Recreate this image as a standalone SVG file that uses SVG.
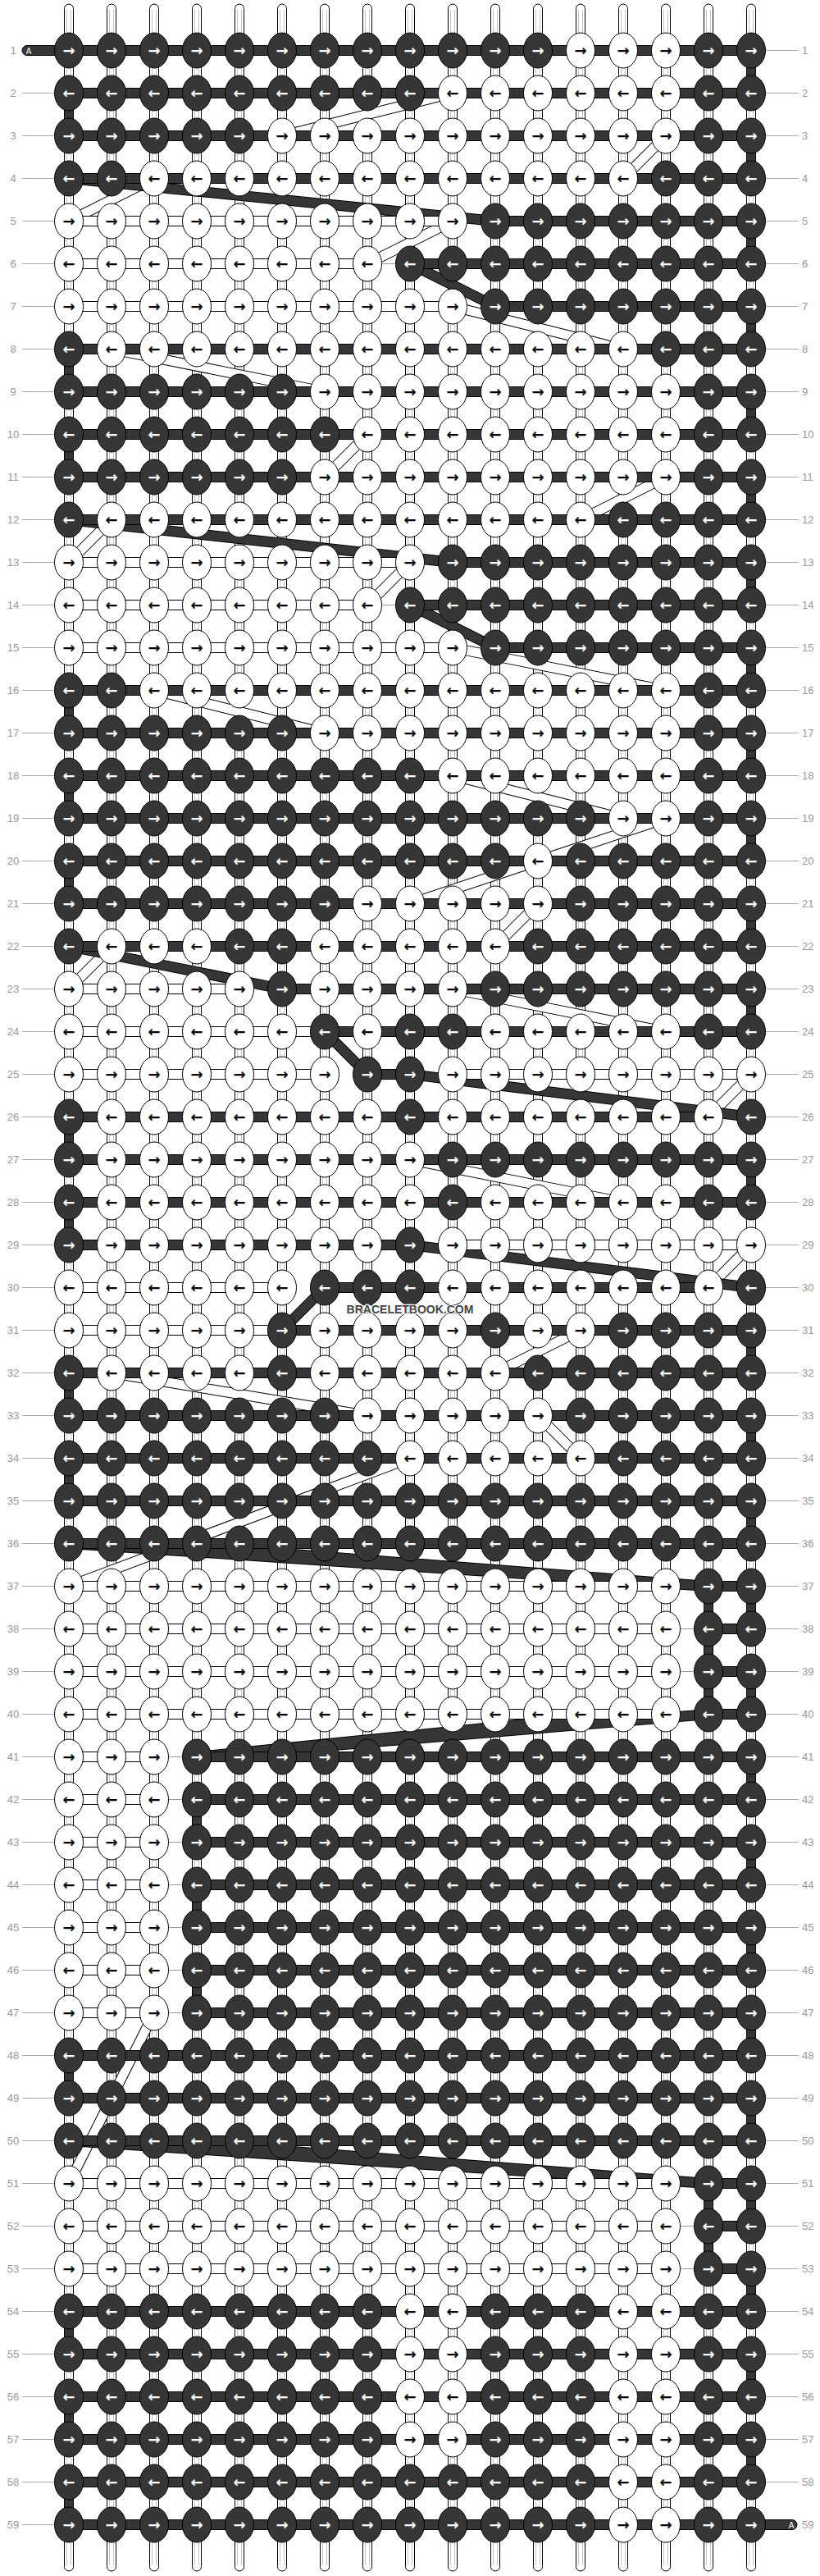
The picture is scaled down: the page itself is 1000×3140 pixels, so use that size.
<svg xmlns="http://www.w3.org/2000/svg" width="1000" height="3140" viewBox="0 0 1000 3140">
<style>
.bg{fill:#fff}
.vs{fill:#fff;stroke:#000;stroke-width:1}
.vi{stroke:#c4c4c4;stroke-width:1;fill:none}
.vd{fill:#363636;stroke:#000;stroke-width:1}
.bd{fill:#363636;stroke:#000;stroke-width:1}
.bw{fill:#fff;stroke:#000;stroke-width:1}
.nl{stroke:#999;stroke-width:1;fill:none}
.bo{stroke:#000;stroke-width:13;fill:none}
.bk{stroke:#363636;stroke-width:11;fill:none}
.bh{stroke:#fff;stroke-width:11;fill:none}
.kd{fill:#363636;stroke:#000;stroke-width:1}
.kw{fill:#fff;stroke:#000;stroke-width:1}
.tw{fill:#fff;font-family:'DejaVu Sans',sans-serif;font-weight:bold;font-size:18px;text-anchor:middle}
.tb{fill:#000;font-family:'DejaVu Sans',sans-serif;font-weight:bold;font-size:18px;text-anchor:middle}
.ll{stroke:#aaa;stroke-width:1;fill:none}
.ln{fill:#999;font-family:'Liberation Sans',Arial,sans-serif;font-size:13px;text-anchor:middle}
.rn{fill:#999;font-family:'Liberation Sans',Arial,sans-serif;font-size:13px;text-anchor:start}
.cap{fill:#363636;stroke:#000;stroke-width:1}
.capt{fill:#fff;font-family:'Liberation Sans',Arial,sans-serif;font-size:10px;text-anchor:middle}
.wm{fill:#444;stroke:#fff;stroke-width:2.5;paint-order:stroke;font-family:'Liberation Sans',Arial,sans-serif;font-weight:bold;font-size:14px;text-anchor:middle}
</style>
<defs>
<g id="a"><ellipse class="kd" rx="17.5" ry="21.5"/><text class="tw" y="6">→</text></g>
<g id="b"><ellipse class="kd" rx="17.5" ry="21.5"/><text class="tw" y="6">←</text></g>
<g id="c"><ellipse class="kw" rx="17.5" ry="21.5"/><text class="tb" y="6">→</text></g>
<g id="e"><ellipse class="kw" rx="17.5" ry="21.5"/><text class="tb" y="6">←</text></g>
<rect id="vd" class="vd" x="-5.5" y="0" width="11" height="24"/>
</defs>
<rect class="bg" x="0" y="0" width="1000" height="3140"/>
<g id="labels">
<path class="ll" d="M27 113.5H66M27 165.5H66M27 217.5H66M27 269.5H66M27 321.5H66M27 373.5H66M27 425.5H66M27 477.5H66M27 529.5H66M27 581.5H66M27 633.5H66M27 685.5H66M27 737.5H66M27 789.5H66M27 841.5H66M27 893.5H66M27 945.5H66M27 997.5H66M27 1049.5H66M27 1101.5H66M27 1153.5H66M27 1205.5H66M27 1257.5H66M27 1309.5H66M27 1361.5H66M27 1413.5H66M27 1465.5H66M27 1517.5H66M27 1569.5H66M27 1621.5H66M27 1673.5H66M27 1725.5H66M27 1777.5H66M27 1829.5H66M27 1881.5H66M27 1933.5H66M27 1985.5H66M27 2037.5H66M27 2089.5H66M27 2141.5H66M27 2193.5H66M27 2245.5H66M27 2297.5H66M27 2349.5H66M27 2401.5H66M27 2453.5H66M27 2505.5H66M27 2557.5H66M27 2609.5H66M27 2661.5H66M27 2713.5H66M27 2765.5H66M27 2817.5H66M27 2869.5H66M27 2921.5H66M27 2973.5H66M27 3025.5H66M27 3077.5H66"/>
<path class="ll" d="M934 61.5H974M934 113.5H974M934 165.5H974M934 217.5H974M934 269.5H974M934 321.5H974M934 373.5H974M934 425.5H974M934 477.5H974M934 529.5H974M934 581.5H974M934 633.5H974M934 685.5H974M934 737.5H974M934 789.5H974M934 841.5H974M934 893.5H974M934 945.5H974M934 997.5H974M934 1049.5H974M934 1101.5H974M934 1153.5H974M934 1205.5H974M934 1257.5H974M934 1309.5H974M934 1361.5H974M934 1413.5H974M934 1465.5H974M934 1517.5H974M934 1569.5H974M934 1621.5H974M934 1673.5H974M934 1725.5H974M934 1777.5H974M934 1829.5H974M934 1881.5H974M934 1933.5H974M934 1985.5H974M934 2037.5H974M934 2089.5H974M934 2141.5H974M934 2193.5H974M934 2245.5H974M934 2297.5H974M934 2349.5H974M934 2401.5H974M934 2453.5H974M934 2505.5H974M934 2557.5H974M934 2609.5H974M934 2661.5H974M934 2713.5H974M934 2765.5H974M934 2817.5H974M934 2869.5H974M934 2921.5H974M934 2973.5H974M934 3025.5H974"/>
<g class="ln">
<text x="16" y="66">1</text><text x="16" y="118">2</text><text x="16" y="170">3</text><text x="16" y="222">4</text><text x="16" y="274">5</text><text x="16" y="326">6</text><text x="16" y="378">7</text><text x="16" y="430">8</text><text x="16" y="482">9</text><text x="16" y="534">10</text>
<text x="16" y="586">11</text><text x="16" y="638">12</text><text x="16" y="690">13</text><text x="16" y="742">14</text><text x="16" y="794">15</text><text x="16" y="846">16</text><text x="16" y="898">17</text><text x="16" y="950">18</text><text x="16" y="1002">19</text><text x="16" y="1054">20</text>
<text x="16" y="1106">21</text><text x="16" y="1158">22</text><text x="16" y="1210">23</text><text x="16" y="1262">24</text><text x="16" y="1314">25</text><text x="16" y="1366">26</text><text x="16" y="1418">27</text><text x="16" y="1470">28</text><text x="16" y="1522">29</text><text x="16" y="1574">30</text>
<text x="16" y="1626">31</text><text x="16" y="1678">32</text><text x="16" y="1730">33</text><text x="16" y="1782">34</text><text x="16" y="1834">35</text><text x="16" y="1886">36</text><text x="16" y="1938">37</text><text x="16" y="1990">38</text><text x="16" y="2042">39</text><text x="16" y="2094">40</text>
<text x="16" y="2146">41</text><text x="16" y="2198">42</text><text x="16" y="2250">43</text><text x="16" y="2302">44</text><text x="16" y="2354">45</text><text x="16" y="2406">46</text><text x="16" y="2458">47</text><text x="16" y="2510">48</text><text x="16" y="2562">49</text><text x="16" y="2614">50</text>
<text x="16" y="2666">51</text><text x="16" y="2718">52</text><text x="16" y="2770">53</text><text x="16" y="2822">54</text><text x="16" y="2874">55</text><text x="16" y="2926">56</text><text x="16" y="2978">57</text><text x="16" y="3030">58</text><text x="16" y="3082">59</text>
</g>
<g class="rn">
<text x="978" y="66">1</text><text x="978" y="118">2</text><text x="978" y="170">3</text><text x="978" y="222">4</text><text x="978" y="274">5</text><text x="978" y="326">6</text><text x="978" y="378">7</text><text x="978" y="430">8</text><text x="978" y="482">9</text><text x="978" y="534">10</text>
<text x="978" y="586">11</text><text x="978" y="638">12</text><text x="978" y="690">13</text><text x="978" y="742">14</text><text x="978" y="794">15</text><text x="978" y="846">16</text><text x="978" y="898">17</text><text x="978" y="950">18</text><text x="978" y="1002">19</text><text x="978" y="1054">20</text>
<text x="978" y="1106">21</text><text x="978" y="1158">22</text><text x="978" y="1210">23</text><text x="978" y="1262">24</text><text x="978" y="1314">25</text><text x="978" y="1366">26</text><text x="978" y="1418">27</text><text x="978" y="1470">28</text><text x="978" y="1522">29</text><text x="978" y="1574">30</text>
<text x="978" y="1626">31</text><text x="978" y="1678">32</text><text x="978" y="1730">33</text><text x="978" y="1782">34</text><text x="978" y="1834">35</text><text x="978" y="1886">36</text><text x="978" y="1938">37</text><text x="978" y="1990">38</text><text x="978" y="2042">39</text><text x="978" y="2094">40</text>
<text x="978" y="2146">41</text><text x="978" y="2198">42</text><text x="978" y="2250">43</text><text x="978" y="2302">44</text><text x="978" y="2354">45</text><text x="978" y="2406">46</text><text x="978" y="2458">47</text><text x="978" y="2510">48</text><text x="978" y="2562">49</text><text x="978" y="2614">50</text>
<text x="978" y="2666">51</text><text x="978" y="2718">52</text><text x="978" y="2770">53</text><text x="978" y="2822">54</text><text x="978" y="2874">55</text><text x="978" y="2926">56</text><text x="978" y="2978">57</text><text x="978" y="3030">58</text><text x="978" y="3082">59</text>
</g>
</g>
<g id="connectors">
<g id="strings">
<rect class="vs" x="78.5" y="5" width="11" height="3129" rx="5.5"/><rect class="vs" x="130.5" y="5" width="11" height="3129" rx="5.5"/><rect class="vs" x="182.5" y="5" width="11" height="3129" rx="5.5"/><rect class="vs" x="234.5" y="5" width="11" height="3129" rx="5.5"/><rect class="vs" x="286.5" y="5" width="11" height="3129" rx="5.5"/><rect class="vs" x="338.5" y="5" width="11" height="3129" rx="5.5"/><rect class="vs" x="390.5" y="5" width="11" height="3129" rx="5.5"/><rect class="vs" x="442.5" y="5" width="11" height="3129" rx="5.5"/><rect class="vs" x="494.5" y="5" width="11" height="3129" rx="5.5"/><rect class="vs" x="546.5" y="5" width="11" height="3129" rx="5.5"/><rect class="vs" x="598.5" y="5" width="11" height="3129" rx="5.5"/><rect class="vs" x="650.5" y="5" width="11" height="3129" rx="5.5"/><rect class="vs" x="702.5" y="5" width="11" height="3129" rx="5.5"/><rect class="vs" x="754.5" y="5" width="11" height="3129" rx="5.5"/><rect class="vs" x="806.5" y="5" width="11" height="3129" rx="5.5"/><rect class="vs" x="858.5" y="5" width="11" height="3129" rx="5.5"/><rect class="vs" x="910.5" y="5" width="11" height="3129" rx="5.5"/>
<path class="vi" d="M81.5 12V3127M86.5 12V3127M133.5 12V3127M138.5 12V3127M185.5 12V3127M190.5 12V3127M237.5 12V3127M242.5 12V3127M289.5 12V3127M294.5 12V3127M341.5 12V3127M346.5 12V3127M393.5 12V3127M398.5 12V3127M445.5 12V3127M450.5 12V3127M497.5 12V3127M502.5 12V3127M549.5 12V3127M554.5 12V3127M601.5 12V3127M606.5 12V3127M653.5 12V3127M658.5 12V3127M705.5 12V3127M710.5 12V3127M757.5 12V3127M762.5 12V3127M809.5 12V3127M814.5 12V3127M861.5 12V3127M866.5 12V3127M913.5 12V3127M918.5 12V3127"/>
</g>
<g id="turns">
<use href="#vd" x="84" y="127.5"/><use href="#vd" x="84" y="439.5"/><use href="#vd" x="84" y="543.5"/><use href="#vd" x="84" y="855.5"/><use href="#vd" x="84" y="959.5"/><use href="#vd" x="84" y="1063.5"/><use href="#vd" x="84" y="1375.5"/><use href="#vd" x="84" y="1479.5"/><use href="#vd" x="84" y="1687.5"/><use href="#vd" x="84" y="1791.5"/><use href="#vd" x="84" y="2519.5"/><use href="#vd" x="84" y="2831.5"/><use href="#vd" x="84" y="2935.5"/><use href="#vd" x="84" y="3039.5"/>
<use href="#vd" x="916" y="75.5"/><use href="#vd" x="916" y="179.5"/><use href="#vd" x="916" y="283.5"/><use href="#vd" x="916" y="387.5"/><use href="#vd" x="916" y="491.5"/><use href="#vd" x="916" y="595.5"/><use href="#vd" x="916" y="699.5"/><use href="#vd" x="916" y="803.5"/><use href="#vd" x="916" y="907.5"/><use href="#vd" x="916" y="1011.5"/><use href="#vd" x="916" y="1115.5"/><use href="#vd" x="916" y="1219.5"/><use href="#vd" x="916" y="1427.5"/><use href="#vd" x="916" y="1635.5"/><use href="#vd" x="916" y="1739.5"/><use href="#vd" x="916" y="1843.5"/><use href="#vd" x="916" y="1947.5"/><use href="#vd" x="916" y="2051.5"/><use href="#vd" x="916" y="2155.5"/><use href="#vd" x="916" y="2259.5"/><use href="#vd" x="916" y="2363.5"/><use href="#vd" x="916" y="2467.5"/><use href="#vd" x="916" y="2571.5"/><use href="#vd" x="916" y="2675.5"/><use href="#vd" x="916" y="2779.5"/><use href="#vd" x="916" y="2883.5"/><use href="#vd" x="916" y="2987.5"/>
<use href="#vd" x="864" y="1947.5"/><use href="#vd" x="864" y="1999.5"/><use href="#vd" x="864" y="2051.5"/><use href="#vd" x="864" y="2675.5"/><use href="#vd" x="864" y="2727.5"/>
<use href="#vd" x="240" y="2207.5"/><use href="#vd" x="240" y="2311.5"/><use href="#vd" x="240" y="2415.5"/>
</g>
<g id="bands">
<path class="bo" d="M552 113.5L344 165.5M812 165.5L760 217.5M188 217.5L84 269.5M552 269.5L448 321.5M552 373.5L760 425.5M136 425.5L396 477.5M448 529.5L396 581.5M812 581.5L708 633.5M136 633.5L84 685.5M500 685.5L448 737.5M552 789.5L812 841.5M188 841.5L396 893.5M552 945.5L760 997.5M812 997.5L656 1049.5M656 1049.5L500 1101.5M656 1101.5L604 1153.5M136 1153.5L84 1205.5M552 1205.5L812 1257.5M916 1309.5L864 1361.5M500 1413.5L760 1465.5M916 1517.5L864 1569.5M708 1621.5L604 1673.5M136 1673.5L448 1725.5M656 1725.5L708 1777.5M500 1777.5L84 1933.5M188 2453.5L84 2661.5"/>
<path class="bh" d="M552 113.5L344 165.5M812 165.5L760 217.5M188 217.5L84 269.5M552 269.5L448 321.5M552 373.5L760 425.5M136 425.5L396 477.5M448 529.5L396 581.5M812 581.5L708 633.5M136 633.5L84 685.5M500 685.5L448 737.5M552 789.5L812 841.5M188 841.5L396 893.5M552 945.5L760 997.5M812 997.5L656 1049.5M656 1049.5L500 1101.5M656 1101.5L604 1153.5M136 1153.5L84 1205.5M552 1205.5L812 1257.5M916 1309.5L864 1361.5M500 1413.5L760 1465.5M916 1517.5L864 1569.5M708 1621.5L604 1673.5M136 1673.5L448 1725.5M656 1725.5L708 1777.5M500 1777.5L84 1933.5M188 2453.5L84 2661.5"/>
<path class="bo" d="M84 217.5L604 269.5M500 321.5L604 373.5M84 633.5L552 685.5M500 737.5L604 789.5M84 1153.5L344 1205.5M396 1257.5L448 1309.5M500 1309.5L916 1361.5M500 1517.5L916 1569.5M396 1569.5L344 1621.5M84 1881.5L864 1933.5M188 1881.5L864 1933.5M864 2089.5L240 2141.5M760 2089.5L240 2141.5M84 2609.5L864 2661.5M188 2609.5L864 2661.5"/>
<path class="bk" d="M84 217.5L604 269.5M500 321.5L604 373.5M84 633.5L552 685.5M500 737.5L604 789.5M84 1153.5L344 1205.5M396 1257.5L448 1309.5M500 1309.5L916 1361.5M500 1517.5L916 1569.5M396 1569.5L344 1621.5M84 1881.5L864 1933.5M188 1881.5L864 1933.5M864 2089.5L240 2141.5M760 2089.5L240 2141.5M84 2609.5L864 2661.5M188 2609.5L864 2661.5"/>
</g>
<g id="bars">
<path class="cap" d="M84 55.5H33A6 6 0 0 0 33 67.5H84Z"/>
<path class="cap" d="M916 3071.5H966A6 6 0 0 1 966 3083.5H916Z"/>
<rect class="bd" x="84" y="55.5" width="832" height="12"/>
<rect class="bd" x="84" y="107.5" width="832" height="12"/>
<rect class="bd" x="84" y="159.5" width="832" height="12"/>
<rect class="bd" x="84" y="211.5" width="832" height="12"/>
<rect class="bw" x="84" y="263.5" width="468" height="12"/><rect class="bd" x="604" y="263.5" width="312" height="12"/>
<rect class="bw" x="84" y="315.5" width="364" height="12"/><rect class="bd" x="500" y="315.5" width="416" height="12"/>
<rect class="bw" x="84" y="367.5" width="468" height="12"/><rect class="bd" x="604" y="367.5" width="312" height="12"/>
<rect class="bd" x="84" y="419.5" width="832" height="12"/>
<rect class="bd" x="84" y="471.5" width="832" height="12"/>
<rect class="bd" x="84" y="523.5" width="832" height="12"/>
<rect class="bd" x="84" y="575.5" width="832" height="12"/>
<rect class="bd" x="84" y="627.5" width="832" height="12"/>
<rect class="bw" x="84" y="679.5" width="416" height="12"/><rect class="bd" x="552" y="679.5" width="364" height="12"/>
<rect class="bw" x="84" y="731.5" width="364" height="12"/><rect class="bd" x="500" y="731.5" width="416" height="12"/>
<rect class="bw" x="84" y="783.5" width="468" height="12"/><rect class="bd" x="604" y="783.5" width="312" height="12"/>
<rect class="bd" x="84" y="835.5" width="832" height="12"/>
<rect class="bd" x="84" y="887.5" width="832" height="12"/>
<rect class="bd" x="84" y="939.5" width="832" height="12"/>
<rect class="bd" x="84" y="991.5" width="832" height="12"/>
<rect class="bd" x="84" y="1043.5" width="832" height="12"/>
<rect class="bd" x="84" y="1095.5" width="832" height="12"/>
<rect class="bd" x="84" y="1147.5" width="832" height="12"/>
<rect class="bw" x="84" y="1199.5" width="208" height="12"/><rect class="bd" x="344" y="1199.5" width="572" height="12"/>
<rect class="bw" x="84" y="1251.5" width="312" height="12"/><rect class="bd" x="396" y="1251.5" width="520" height="12"/>
<rect class="bw" x="84" y="1303.5" width="312" height="12"/><rect class="bd" x="448" y="1303.5" width="52" height="12"/><rect class="bw" x="552" y="1303.5" width="364" height="12"/>
<rect class="bd" x="84" y="1355.5" width="780" height="12"/>
<rect class="bd" x="84" y="1407.5" width="832" height="12"/>
<rect class="bd" x="84" y="1459.5" width="832" height="12"/>
<rect class="bd" x="84" y="1511.5" width="416" height="12"/><rect class="bw" x="552" y="1511.5" width="364" height="12"/>
<rect class="bw" x="84" y="1563.5" width="260" height="12"/><rect class="bd" x="396" y="1563.5" width="468" height="12"/>
<rect class="bw" x="84" y="1615.5" width="260" height="12"/><rect class="bd" x="344" y="1615.5" width="572" height="12"/>
<rect class="bd" x="84" y="1667.5" width="832" height="12"/>
<rect class="bd" x="84" y="1719.5" width="832" height="12"/>
<rect class="bd" x="84" y="1771.5" width="832" height="12"/>
<rect class="bd" x="84" y="1823.5" width="832" height="12"/>
<rect class="bd" x="84" y="1875.5" width="832" height="12"/>
<rect class="bw" x="84" y="1927.5" width="728" height="12"/><rect class="bd" x="864" y="1927.5" width="52" height="12"/>
<rect class="bw" x="84" y="1979.5" width="728" height="12"/><rect class="bd" x="864" y="1979.5" width="52" height="12"/>
<rect class="bw" x="84" y="2031.5" width="728" height="12"/><rect class="bd" x="864" y="2031.5" width="52" height="12"/>
<rect class="bw" x="84" y="2083.5" width="728" height="12"/><rect class="bd" x="864" y="2083.5" width="52" height="12"/>
<rect class="bw" x="84" y="2135.5" width="104" height="12"/><rect class="bd" x="240" y="2135.5" width="676" height="12"/>
<rect class="bw" x="84" y="2187.5" width="104" height="12"/><rect class="bd" x="240" y="2187.5" width="676" height="12"/>
<rect class="bw" x="84" y="2239.5" width="104" height="12"/><rect class="bd" x="240" y="2239.5" width="676" height="12"/>
<rect class="bw" x="84" y="2291.5" width="104" height="12"/><rect class="bd" x="240" y="2291.5" width="676" height="12"/>
<rect class="bw" x="84" y="2343.5" width="104" height="12"/><rect class="bd" x="240" y="2343.5" width="676" height="12"/>
<rect class="bw" x="84" y="2395.5" width="104" height="12"/><rect class="bd" x="240" y="2395.5" width="676" height="12"/>
<rect class="bw" x="84" y="2447.5" width="104" height="12"/><rect class="bd" x="240" y="2447.5" width="676" height="12"/>
<rect class="bd" x="84" y="2499.5" width="832" height="12"/>
<rect class="bd" x="84" y="2551.5" width="832" height="12"/>
<rect class="bd" x="84" y="2603.5" width="832" height="12"/>
<rect class="bw" x="84" y="2655.5" width="728" height="12"/><rect class="bd" x="864" y="2655.5" width="52" height="12"/>
<rect class="bw" x="84" y="2707.5" width="728" height="12"/><rect class="bd" x="864" y="2707.5" width="52" height="12"/>
<rect class="bw" x="84" y="2759.5" width="728" height="12"/><rect class="bd" x="864" y="2759.5" width="52" height="12"/>
<rect class="bd" x="84" y="2811.5" width="832" height="12"/>
<rect class="bd" x="84" y="2863.5" width="832" height="12"/>
<rect class="bd" x="84" y="2915.5" width="832" height="12"/>
<rect class="bd" x="84" y="2967.5" width="832" height="12"/>
<rect class="bd" x="84" y="3019.5" width="832" height="12"/>
<rect class="bd" x="84" y="3071.5" width="832" height="12"/>
<path class="nl" d="M465.5 321.5H482.5M465.5 737.5H482.5M829.5 1985.5H846.5M829.5 2037.5H846.5M829.5 2713.5H846.5M829.5 2765.5H846.5M205.5 2141.5H222.5M205.5 2193.5H222.5M205.5 2245.5H222.5M205.5 2297.5H222.5M205.5 2349.5H222.5M205.5 2401.5H222.5M205.5 2453.5H222.5"/>
</g>
</g>
<g id="knots">
<g id="row1" transform="translate(0,61.5)"><use href="#a" x="84"/><use href="#a" x="136"/><use href="#a" x="188"/><use href="#a" x="240"/><use href="#a" x="292"/><use href="#a" x="344"/><use href="#a" x="396"/><use href="#a" x="448"/><use href="#a" x="500"/><use href="#a" x="552"/><use href="#a" x="604"/><use href="#a" x="656"/><use href="#c" x="708"/><use href="#c" x="760"/><use href="#c" x="812"/><use href="#a" x="864"/><use href="#a" x="916"/></g>
<g id="row2" transform="translate(0,113.5)"><use href="#b" x="84"/><use href="#b" x="136"/><use href="#b" x="188"/><use href="#b" x="240"/><use href="#b" x="292"/><use href="#b" x="344"/><use href="#b" x="396"/><use href="#b" x="448"/><use href="#b" x="500"/><use href="#e" x="552"/><use href="#e" x="604"/><use href="#e" x="656"/><use href="#e" x="708"/><use href="#e" x="760"/><use href="#e" x="812"/><use href="#b" x="864"/><use href="#b" x="916"/></g>
<g id="row3" transform="translate(0,165.5)"><use href="#a" x="84"/><use href="#a" x="136"/><use href="#a" x="188"/><use href="#a" x="240"/><use href="#a" x="292"/><use href="#c" x="344"/><use href="#c" x="396"/><use href="#c" x="448"/><use href="#c" x="500"/><use href="#c" x="552"/><use href="#c" x="604"/><use href="#c" x="656"/><use href="#c" x="708"/><use href="#c" x="760"/><use href="#c" x="812"/><use href="#a" x="864"/><use href="#a" x="916"/></g>
<g id="row4" transform="translate(0,217.5)"><use href="#b" x="84"/><use href="#b" x="136"/><use href="#e" x="188"/><use href="#e" x="240"/><use href="#e" x="292"/><use href="#e" x="344"/><use href="#e" x="396"/><use href="#e" x="448"/><use href="#e" x="500"/><use href="#e" x="552"/><use href="#e" x="604"/><use href="#e" x="656"/><use href="#e" x="708"/><use href="#e" x="760"/><use href="#b" x="812"/><use href="#b" x="864"/><use href="#b" x="916"/></g>
<g id="row5" transform="translate(0,269.5)"><use href="#c" x="84"/><use href="#c" x="136"/><use href="#c" x="188"/><use href="#c" x="240"/><use href="#c" x="292"/><use href="#c" x="344"/><use href="#c" x="396"/><use href="#c" x="448"/><use href="#c" x="500"/><use href="#c" x="552"/><use href="#a" x="604"/><use href="#a" x="656"/><use href="#a" x="708"/><use href="#a" x="760"/><use href="#a" x="812"/><use href="#a" x="864"/><use href="#a" x="916"/></g>
<g id="row6" transform="translate(0,321.5)"><use href="#e" x="84"/><use href="#e" x="136"/><use href="#e" x="188"/><use href="#e" x="240"/><use href="#e" x="292"/><use href="#e" x="344"/><use href="#e" x="396"/><use href="#e" x="448"/><use href="#b" x="500"/><use href="#b" x="552"/><use href="#b" x="604"/><use href="#b" x="656"/><use href="#b" x="708"/><use href="#b" x="760"/><use href="#b" x="812"/><use href="#b" x="864"/><use href="#b" x="916"/></g>
<g id="row7" transform="translate(0,373.5)"><use href="#c" x="84"/><use href="#c" x="136"/><use href="#c" x="188"/><use href="#c" x="240"/><use href="#c" x="292"/><use href="#c" x="344"/><use href="#c" x="396"/><use href="#c" x="448"/><use href="#c" x="500"/><use href="#c" x="552"/><use href="#a" x="604"/><use href="#a" x="656"/><use href="#a" x="708"/><use href="#a" x="760"/><use href="#a" x="812"/><use href="#a" x="864"/><use href="#a" x="916"/></g>
<g id="row8" transform="translate(0,425.5)"><use href="#b" x="84"/><use href="#e" x="136"/><use href="#e" x="188"/><use href="#e" x="240"/><use href="#e" x="292"/><use href="#e" x="344"/><use href="#e" x="396"/><use href="#e" x="448"/><use href="#e" x="500"/><use href="#e" x="552"/><use href="#e" x="604"/><use href="#e" x="656"/><use href="#e" x="708"/><use href="#e" x="760"/><use href="#b" x="812"/><use href="#b" x="864"/><use href="#b" x="916"/></g>
<g id="row9" transform="translate(0,477.5)"><use href="#a" x="84"/><use href="#a" x="136"/><use href="#a" x="188"/><use href="#a" x="240"/><use href="#a" x="292"/><use href="#a" x="344"/><use href="#c" x="396"/><use href="#c" x="448"/><use href="#c" x="500"/><use href="#c" x="552"/><use href="#c" x="604"/><use href="#c" x="656"/><use href="#c" x="708"/><use href="#c" x="760"/><use href="#c" x="812"/><use href="#a" x="864"/><use href="#a" x="916"/></g>
<g id="row10" transform="translate(0,529.5)"><use href="#b" x="84"/><use href="#b" x="136"/><use href="#b" x="188"/><use href="#b" x="240"/><use href="#b" x="292"/><use href="#b" x="344"/><use href="#b" x="396"/><use href="#e" x="448"/><use href="#e" x="500"/><use href="#e" x="552"/><use href="#e" x="604"/><use href="#e" x="656"/><use href="#e" x="708"/><use href="#e" x="760"/><use href="#e" x="812"/><use href="#b" x="864"/><use href="#b" x="916"/></g>
<g id="row11" transform="translate(0,581.5)"><use href="#a" x="84"/><use href="#a" x="136"/><use href="#a" x="188"/><use href="#a" x="240"/><use href="#a" x="292"/><use href="#a" x="344"/><use href="#c" x="396"/><use href="#c" x="448"/><use href="#c" x="500"/><use href="#c" x="552"/><use href="#c" x="604"/><use href="#c" x="656"/><use href="#c" x="708"/><use href="#c" x="760"/><use href="#c" x="812"/><use href="#a" x="864"/><use href="#a" x="916"/></g>
<g id="row12" transform="translate(0,633.5)"><use href="#b" x="84"/><use href="#e" x="136"/><use href="#e" x="188"/><use href="#e" x="240"/><use href="#e" x="292"/><use href="#e" x="344"/><use href="#e" x="396"/><use href="#e" x="448"/><use href="#e" x="500"/><use href="#e" x="552"/><use href="#e" x="604"/><use href="#e" x="656"/><use href="#e" x="708"/><use href="#b" x="760"/><use href="#b" x="812"/><use href="#b" x="864"/><use href="#b" x="916"/></g>
<g id="row13" transform="translate(0,685.5)"><use href="#c" x="84"/><use href="#c" x="136"/><use href="#c" x="188"/><use href="#c" x="240"/><use href="#c" x="292"/><use href="#c" x="344"/><use href="#c" x="396"/><use href="#c" x="448"/><use href="#c" x="500"/><use href="#a" x="552"/><use href="#a" x="604"/><use href="#a" x="656"/><use href="#a" x="708"/><use href="#a" x="760"/><use href="#a" x="812"/><use href="#a" x="864"/><use href="#a" x="916"/></g>
<g id="row14" transform="translate(0,737.5)"><use href="#e" x="84"/><use href="#e" x="136"/><use href="#e" x="188"/><use href="#e" x="240"/><use href="#e" x="292"/><use href="#e" x="344"/><use href="#e" x="396"/><use href="#e" x="448"/><use href="#b" x="500"/><use href="#b" x="552"/><use href="#b" x="604"/><use href="#b" x="656"/><use href="#b" x="708"/><use href="#b" x="760"/><use href="#b" x="812"/><use href="#b" x="864"/><use href="#b" x="916"/></g>
<g id="row15" transform="translate(0,789.5)"><use href="#c" x="84"/><use href="#c" x="136"/><use href="#c" x="188"/><use href="#c" x="240"/><use href="#c" x="292"/><use href="#c" x="344"/><use href="#c" x="396"/><use href="#c" x="448"/><use href="#c" x="500"/><use href="#c" x="552"/><use href="#a" x="604"/><use href="#a" x="656"/><use href="#a" x="708"/><use href="#a" x="760"/><use href="#a" x="812"/><use href="#a" x="864"/><use href="#a" x="916"/></g>
<g id="row16" transform="translate(0,841.5)"><use href="#b" x="84"/><use href="#b" x="136"/><use href="#e" x="188"/><use href="#e" x="240"/><use href="#e" x="292"/><use href="#e" x="344"/><use href="#e" x="396"/><use href="#e" x="448"/><use href="#e" x="500"/><use href="#e" x="552"/><use href="#e" x="604"/><use href="#e" x="656"/><use href="#e" x="708"/><use href="#e" x="760"/><use href="#e" x="812"/><use href="#b" x="864"/><use href="#b" x="916"/></g>
<g id="row17" transform="translate(0,893.5)"><use href="#a" x="84"/><use href="#a" x="136"/><use href="#a" x="188"/><use href="#a" x="240"/><use href="#a" x="292"/><use href="#a" x="344"/><use href="#c" x="396"/><use href="#c" x="448"/><use href="#c" x="500"/><use href="#c" x="552"/><use href="#c" x="604"/><use href="#c" x="656"/><use href="#c" x="708"/><use href="#c" x="760"/><use href="#c" x="812"/><use href="#a" x="864"/><use href="#a" x="916"/></g>
<g id="row18" transform="translate(0,945.5)"><use href="#b" x="84"/><use href="#b" x="136"/><use href="#b" x="188"/><use href="#b" x="240"/><use href="#b" x="292"/><use href="#b" x="344"/><use href="#b" x="396"/><use href="#b" x="448"/><use href="#b" x="500"/><use href="#e" x="552"/><use href="#e" x="604"/><use href="#e" x="656"/><use href="#e" x="708"/><use href="#e" x="760"/><use href="#e" x="812"/><use href="#b" x="864"/><use href="#b" x="916"/></g>
<g id="row19" transform="translate(0,997.5)"><use href="#a" x="84"/><use href="#a" x="136"/><use href="#a" x="188"/><use href="#a" x="240"/><use href="#a" x="292"/><use href="#a" x="344"/><use href="#a" x="396"/><use href="#a" x="448"/><use href="#a" x="500"/><use href="#a" x="552"/><use href="#a" x="604"/><use href="#a" x="656"/><use href="#a" x="708"/><use href="#c" x="760"/><use href="#c" x="812"/><use href="#a" x="864"/><use href="#a" x="916"/></g>
<g id="row20" transform="translate(0,1049.5)"><use href="#b" x="84"/><use href="#b" x="136"/><use href="#b" x="188"/><use href="#b" x="240"/><use href="#b" x="292"/><use href="#b" x="344"/><use href="#b" x="396"/><use href="#b" x="448"/><use href="#b" x="500"/><use href="#b" x="552"/><use href="#b" x="604"/><use href="#e" x="656"/><use href="#b" x="708"/><use href="#b" x="760"/><use href="#b" x="812"/><use href="#b" x="864"/><use href="#b" x="916"/></g>
<g id="row21" transform="translate(0,1101.5)"><use href="#a" x="84"/><use href="#a" x="136"/><use href="#a" x="188"/><use href="#a" x="240"/><use href="#a" x="292"/><use href="#a" x="344"/><use href="#a" x="396"/><use href="#c" x="448"/><use href="#c" x="500"/><use href="#c" x="552"/><use href="#c" x="604"/><use href="#c" x="656"/><use href="#a" x="708"/><use href="#a" x="760"/><use href="#a" x="812"/><use href="#a" x="864"/><use href="#a" x="916"/></g>
<g id="row22" transform="translate(0,1153.5)"><use href="#b" x="84"/><use href="#e" x="136"/><use href="#e" x="188"/><use href="#e" x="240"/><use href="#b" x="292"/><use href="#b" x="344"/><use href="#e" x="396"/><use href="#e" x="448"/><use href="#e" x="500"/><use href="#e" x="552"/><use href="#e" x="604"/><use href="#b" x="656"/><use href="#b" x="708"/><use href="#b" x="760"/><use href="#b" x="812"/><use href="#b" x="864"/><use href="#b" x="916"/></g>
<g id="row23" transform="translate(0,1205.5)"><use href="#c" x="84"/><use href="#c" x="136"/><use href="#c" x="188"/><use href="#c" x="240"/><use href="#c" x="292"/><use href="#a" x="344"/><use href="#c" x="396"/><use href="#c" x="448"/><use href="#c" x="500"/><use href="#c" x="552"/><use href="#a" x="604"/><use href="#a" x="656"/><use href="#a" x="708"/><use href="#a" x="760"/><use href="#a" x="812"/><use href="#a" x="864"/><use href="#a" x="916"/></g>
<g id="row24" transform="translate(0,1257.5)"><use href="#e" x="84"/><use href="#e" x="136"/><use href="#e" x="188"/><use href="#e" x="240"/><use href="#e" x="292"/><use href="#e" x="344"/><use href="#b" x="396"/><use href="#e" x="448"/><use href="#b" x="500"/><use href="#b" x="552"/><use href="#e" x="604"/><use href="#e" x="656"/><use href="#e" x="708"/><use href="#e" x="760"/><use href="#e" x="812"/><use href="#b" x="864"/><use href="#b" x="916"/></g>
<g id="row25" transform="translate(0,1309.5)"><use href="#c" x="84"/><use href="#c" x="136"/><use href="#c" x="188"/><use href="#c" x="240"/><use href="#c" x="292"/><use href="#c" x="344"/><use href="#c" x="396"/><use href="#a" x="448"/><use href="#a" x="500"/><use href="#c" x="552"/><use href="#c" x="604"/><use href="#c" x="656"/><use href="#c" x="708"/><use href="#c" x="760"/><use href="#c" x="812"/><use href="#c" x="864"/><use href="#c" x="916"/></g>
<g id="row26" transform="translate(0,1361.5)"><use href="#b" x="84"/><use href="#e" x="136"/><use href="#e" x="188"/><use href="#e" x="240"/><use href="#e" x="292"/><use href="#e" x="344"/><use href="#e" x="396"/><use href="#e" x="448"/><use href="#b" x="500"/><use href="#e" x="552"/><use href="#e" x="604"/><use href="#e" x="656"/><use href="#e" x="708"/><use href="#e" x="760"/><use href="#e" x="812"/><use href="#e" x="864"/><use href="#b" x="916"/></g>
<g id="row27" transform="translate(0,1413.5)"><use href="#a" x="84"/><use href="#c" x="136"/><use href="#c" x="188"/><use href="#c" x="240"/><use href="#c" x="292"/><use href="#c" x="344"/><use href="#c" x="396"/><use href="#c" x="448"/><use href="#c" x="500"/><use href="#a" x="552"/><use href="#a" x="604"/><use href="#a" x="656"/><use href="#a" x="708"/><use href="#a" x="760"/><use href="#a" x="812"/><use href="#a" x="864"/><use href="#a" x="916"/></g>
<g id="row28" transform="translate(0,1465.5)"><use href="#b" x="84"/><use href="#e" x="136"/><use href="#e" x="188"/><use href="#e" x="240"/><use href="#e" x="292"/><use href="#e" x="344"/><use href="#e" x="396"/><use href="#e" x="448"/><use href="#e" x="500"/><use href="#b" x="552"/><use href="#e" x="604"/><use href="#e" x="656"/><use href="#e" x="708"/><use href="#e" x="760"/><use href="#e" x="812"/><use href="#b" x="864"/><use href="#b" x="916"/></g>
<g id="row29" transform="translate(0,1517.5)"><use href="#a" x="84"/><use href="#c" x="136"/><use href="#c" x="188"/><use href="#c" x="240"/><use href="#c" x="292"/><use href="#c" x="344"/><use href="#c" x="396"/><use href="#c" x="448"/><use href="#a" x="500"/><use href="#c" x="552"/><use href="#c" x="604"/><use href="#c" x="656"/><use href="#c" x="708"/><use href="#c" x="760"/><use href="#c" x="812"/><use href="#c" x="864"/><use href="#c" x="916"/></g>
<g id="row30" transform="translate(0,1569.5)"><use href="#e" x="84"/><use href="#e" x="136"/><use href="#e" x="188"/><use href="#e" x="240"/><use href="#e" x="292"/><use href="#e" x="344"/><use href="#b" x="396"/><use href="#b" x="448"/><use href="#b" x="500"/><use href="#e" x="552"/><use href="#e" x="604"/><use href="#e" x="656"/><use href="#e" x="708"/><use href="#e" x="760"/><use href="#e" x="812"/><use href="#e" x="864"/><use href="#b" x="916"/></g>
<g id="row31" transform="translate(0,1621.5)"><use href="#c" x="84"/><use href="#c" x="136"/><use href="#c" x="188"/><use href="#c" x="240"/><use href="#c" x="292"/><use href="#a" x="344"/><use href="#c" x="396"/><use href="#c" x="448"/><use href="#c" x="500"/><use href="#c" x="552"/><use href="#a" x="604"/><use href="#c" x="656"/><use href="#c" x="708"/><use href="#a" x="760"/><use href="#a" x="812"/><use href="#a" x="864"/><use href="#a" x="916"/></g>
<g id="row32" transform="translate(0,1673.5)"><use href="#b" x="84"/><use href="#e" x="136"/><use href="#e" x="188"/><use href="#e" x="240"/><use href="#e" x="292"/><use href="#b" x="344"/><use href="#e" x="396"/><use href="#e" x="448"/><use href="#e" x="500"/><use href="#e" x="552"/><use href="#e" x="604"/><use href="#b" x="656"/><use href="#b" x="708"/><use href="#b" x="760"/><use href="#b" x="812"/><use href="#b" x="864"/><use href="#b" x="916"/></g>
<g id="row33" transform="translate(0,1725.5)"><use href="#a" x="84"/><use href="#a" x="136"/><use href="#a" x="188"/><use href="#a" x="240"/><use href="#a" x="292"/><use href="#a" x="344"/><use href="#a" x="396"/><use href="#c" x="448"/><use href="#c" x="500"/><use href="#c" x="552"/><use href="#c" x="604"/><use href="#c" x="656"/><use href="#a" x="708"/><use href="#a" x="760"/><use href="#a" x="812"/><use href="#a" x="864"/><use href="#a" x="916"/></g>
<g id="row34" transform="translate(0,1777.5)"><use href="#b" x="84"/><use href="#b" x="136"/><use href="#b" x="188"/><use href="#b" x="240"/><use href="#b" x="292"/><use href="#b" x="344"/><use href="#b" x="396"/><use href="#b" x="448"/><use href="#e" x="500"/><use href="#e" x="552"/><use href="#e" x="604"/><use href="#e" x="656"/><use href="#e" x="708"/><use href="#b" x="760"/><use href="#b" x="812"/><use href="#b" x="864"/><use href="#b" x="916"/></g>
<g id="row35" transform="translate(0,1829.5)"><use href="#a" x="84"/><use href="#a" x="136"/><use href="#a" x="188"/><use href="#a" x="240"/><use href="#a" x="292"/><use href="#a" x="344"/><use href="#a" x="396"/><use href="#a" x="448"/><use href="#a" x="500"/><use href="#a" x="552"/><use href="#a" x="604"/><use href="#a" x="656"/><use href="#a" x="708"/><use href="#a" x="760"/><use href="#a" x="812"/><use href="#a" x="864"/><use href="#a" x="916"/></g>
<g id="row36" transform="translate(0,1881.5)"><use href="#b" x="84"/><use href="#b" x="136"/><use href="#b" x="188"/><use href="#b" x="240"/><use href="#b" x="292"/><use href="#b" x="344"/><use href="#b" x="396"/><use href="#b" x="448"/><use href="#b" x="500"/><use href="#b" x="552"/><use href="#b" x="604"/><use href="#b" x="656"/><use href="#b" x="708"/><use href="#b" x="760"/><use href="#b" x="812"/><use href="#b" x="864"/><use href="#b" x="916"/></g>
<g id="row37" transform="translate(0,1933.5)"><use href="#c" x="84"/><use href="#c" x="136"/><use href="#c" x="188"/><use href="#c" x="240"/><use href="#c" x="292"/><use href="#c" x="344"/><use href="#c" x="396"/><use href="#c" x="448"/><use href="#c" x="500"/><use href="#c" x="552"/><use href="#c" x="604"/><use href="#c" x="656"/><use href="#c" x="708"/><use href="#c" x="760"/><use href="#c" x="812"/><use href="#a" x="864"/><use href="#a" x="916"/></g>
<g id="row38" transform="translate(0,1985.5)"><use href="#e" x="84"/><use href="#e" x="136"/><use href="#e" x="188"/><use href="#e" x="240"/><use href="#e" x="292"/><use href="#e" x="344"/><use href="#e" x="396"/><use href="#e" x="448"/><use href="#e" x="500"/><use href="#e" x="552"/><use href="#e" x="604"/><use href="#e" x="656"/><use href="#e" x="708"/><use href="#e" x="760"/><use href="#e" x="812"/><use href="#b" x="864"/><use href="#b" x="916"/></g>
<g id="row39" transform="translate(0,2037.5)"><use href="#c" x="84"/><use href="#c" x="136"/><use href="#c" x="188"/><use href="#c" x="240"/><use href="#c" x="292"/><use href="#c" x="344"/><use href="#c" x="396"/><use href="#c" x="448"/><use href="#c" x="500"/><use href="#c" x="552"/><use href="#c" x="604"/><use href="#c" x="656"/><use href="#c" x="708"/><use href="#c" x="760"/><use href="#c" x="812"/><use href="#a" x="864"/><use href="#a" x="916"/></g>
<g id="row40" transform="translate(0,2089.5)"><use href="#e" x="84"/><use href="#e" x="136"/><use href="#e" x="188"/><use href="#e" x="240"/><use href="#e" x="292"/><use href="#e" x="344"/><use href="#e" x="396"/><use href="#e" x="448"/><use href="#e" x="500"/><use href="#e" x="552"/><use href="#e" x="604"/><use href="#e" x="656"/><use href="#e" x="708"/><use href="#e" x="760"/><use href="#e" x="812"/><use href="#b" x="864"/><use href="#b" x="916"/></g>
<g id="row41" transform="translate(0,2141.5)"><use href="#c" x="84"/><use href="#c" x="136"/><use href="#c" x="188"/><use href="#a" x="240"/><use href="#a" x="292"/><use href="#a" x="344"/><use href="#a" x="396"/><use href="#a" x="448"/><use href="#a" x="500"/><use href="#a" x="552"/><use href="#a" x="604"/><use href="#a" x="656"/><use href="#a" x="708"/><use href="#a" x="760"/><use href="#a" x="812"/><use href="#a" x="864"/><use href="#a" x="916"/></g>
<g id="row42" transform="translate(0,2193.5)"><use href="#e" x="84"/><use href="#e" x="136"/><use href="#e" x="188"/><use href="#b" x="240"/><use href="#b" x="292"/><use href="#b" x="344"/><use href="#b" x="396"/><use href="#b" x="448"/><use href="#b" x="500"/><use href="#b" x="552"/><use href="#b" x="604"/><use href="#b" x="656"/><use href="#b" x="708"/><use href="#b" x="760"/><use href="#b" x="812"/><use href="#b" x="864"/><use href="#b" x="916"/></g>
<g id="row43" transform="translate(0,2245.5)"><use href="#c" x="84"/><use href="#c" x="136"/><use href="#c" x="188"/><use href="#a" x="240"/><use href="#a" x="292"/><use href="#a" x="344"/><use href="#a" x="396"/><use href="#a" x="448"/><use href="#a" x="500"/><use href="#a" x="552"/><use href="#a" x="604"/><use href="#a" x="656"/><use href="#a" x="708"/><use href="#a" x="760"/><use href="#a" x="812"/><use href="#a" x="864"/><use href="#a" x="916"/></g>
<g id="row44" transform="translate(0,2297.5)"><use href="#e" x="84"/><use href="#e" x="136"/><use href="#e" x="188"/><use href="#b" x="240"/><use href="#b" x="292"/><use href="#b" x="344"/><use href="#b" x="396"/><use href="#b" x="448"/><use href="#b" x="500"/><use href="#b" x="552"/><use href="#b" x="604"/><use href="#b" x="656"/><use href="#b" x="708"/><use href="#b" x="760"/><use href="#b" x="812"/><use href="#b" x="864"/><use href="#b" x="916"/></g>
<g id="row45" transform="translate(0,2349.5)"><use href="#c" x="84"/><use href="#c" x="136"/><use href="#c" x="188"/><use href="#a" x="240"/><use href="#a" x="292"/><use href="#a" x="344"/><use href="#a" x="396"/><use href="#a" x="448"/><use href="#a" x="500"/><use href="#a" x="552"/><use href="#a" x="604"/><use href="#a" x="656"/><use href="#a" x="708"/><use href="#a" x="760"/><use href="#a" x="812"/><use href="#a" x="864"/><use href="#a" x="916"/></g>
<g id="row46" transform="translate(0,2401.5)"><use href="#e" x="84"/><use href="#e" x="136"/><use href="#e" x="188"/><use href="#b" x="240"/><use href="#b" x="292"/><use href="#b" x="344"/><use href="#b" x="396"/><use href="#b" x="448"/><use href="#b" x="500"/><use href="#b" x="552"/><use href="#b" x="604"/><use href="#b" x="656"/><use href="#b" x="708"/><use href="#b" x="760"/><use href="#b" x="812"/><use href="#b" x="864"/><use href="#b" x="916"/></g>
<g id="row47" transform="translate(0,2453.5)"><use href="#c" x="84"/><use href="#c" x="136"/><use href="#c" x="188"/><use href="#a" x="240"/><use href="#a" x="292"/><use href="#a" x="344"/><use href="#a" x="396"/><use href="#a" x="448"/><use href="#a" x="500"/><use href="#a" x="552"/><use href="#a" x="604"/><use href="#a" x="656"/><use href="#a" x="708"/><use href="#a" x="760"/><use href="#a" x="812"/><use href="#a" x="864"/><use href="#a" x="916"/></g>
<g id="row48" transform="translate(0,2505.5)"><use href="#b" x="84"/><use href="#b" x="136"/><use href="#b" x="188"/><use href="#b" x="240"/><use href="#b" x="292"/><use href="#b" x="344"/><use href="#b" x="396"/><use href="#b" x="448"/><use href="#b" x="500"/><use href="#b" x="552"/><use href="#b" x="604"/><use href="#b" x="656"/><use href="#b" x="708"/><use href="#b" x="760"/><use href="#b" x="812"/><use href="#b" x="864"/><use href="#b" x="916"/></g>
<g id="row49" transform="translate(0,2557.5)"><use href="#a" x="84"/><use href="#a" x="136"/><use href="#a" x="188"/><use href="#a" x="240"/><use href="#a" x="292"/><use href="#a" x="344"/><use href="#a" x="396"/><use href="#a" x="448"/><use href="#a" x="500"/><use href="#a" x="552"/><use href="#a" x="604"/><use href="#a" x="656"/><use href="#a" x="708"/><use href="#a" x="760"/><use href="#a" x="812"/><use href="#a" x="864"/><use href="#a" x="916"/></g>
<g id="row50" transform="translate(0,2609.5)"><use href="#b" x="84"/><use href="#b" x="136"/><use href="#b" x="188"/><use href="#b" x="240"/><use href="#b" x="292"/><use href="#b" x="344"/><use href="#b" x="396"/><use href="#b" x="448"/><use href="#b" x="500"/><use href="#b" x="552"/><use href="#b" x="604"/><use href="#b" x="656"/><use href="#b" x="708"/><use href="#b" x="760"/><use href="#b" x="812"/><use href="#b" x="864"/><use href="#b" x="916"/></g>
<g id="row51" transform="translate(0,2661.5)"><use href="#c" x="84"/><use href="#c" x="136"/><use href="#c" x="188"/><use href="#c" x="240"/><use href="#c" x="292"/><use href="#c" x="344"/><use href="#c" x="396"/><use href="#c" x="448"/><use href="#c" x="500"/><use href="#c" x="552"/><use href="#c" x="604"/><use href="#c" x="656"/><use href="#c" x="708"/><use href="#c" x="760"/><use href="#c" x="812"/><use href="#a" x="864"/><use href="#a" x="916"/></g>
<g id="row52" transform="translate(0,2713.5)"><use href="#e" x="84"/><use href="#e" x="136"/><use href="#e" x="188"/><use href="#e" x="240"/><use href="#e" x="292"/><use href="#e" x="344"/><use href="#e" x="396"/><use href="#e" x="448"/><use href="#e" x="500"/><use href="#e" x="552"/><use href="#e" x="604"/><use href="#e" x="656"/><use href="#e" x="708"/><use href="#e" x="760"/><use href="#e" x="812"/><use href="#b" x="864"/><use href="#b" x="916"/></g>
<g id="row53" transform="translate(0,2765.5)"><use href="#c" x="84"/><use href="#c" x="136"/><use href="#c" x="188"/><use href="#c" x="240"/><use href="#c" x="292"/><use href="#c" x="344"/><use href="#c" x="396"/><use href="#c" x="448"/><use href="#c" x="500"/><use href="#c" x="552"/><use href="#c" x="604"/><use href="#c" x="656"/><use href="#c" x="708"/><use href="#c" x="760"/><use href="#c" x="812"/><use href="#a" x="864"/><use href="#a" x="916"/></g>
<g id="row54" transform="translate(0,2817.5)"><use href="#b" x="84"/><use href="#b" x="136"/><use href="#b" x="188"/><use href="#b" x="240"/><use href="#b" x="292"/><use href="#b" x="344"/><use href="#b" x="396"/><use href="#b" x="448"/><use href="#e" x="500"/><use href="#e" x="552"/><use href="#b" x="604"/><use href="#b" x="656"/><use href="#b" x="708"/><use href="#e" x="760"/><use href="#e" x="812"/><use href="#b" x="864"/><use href="#b" x="916"/></g>
<g id="row55" transform="translate(0,2869.5)"><use href="#a" x="84"/><use href="#a" x="136"/><use href="#a" x="188"/><use href="#a" x="240"/><use href="#a" x="292"/><use href="#a" x="344"/><use href="#a" x="396"/><use href="#a" x="448"/><use href="#c" x="500"/><use href="#c" x="552"/><use href="#a" x="604"/><use href="#a" x="656"/><use href="#a" x="708"/><use href="#c" x="760"/><use href="#c" x="812"/><use href="#a" x="864"/><use href="#a" x="916"/></g>
<g id="row56" transform="translate(0,2921.5)"><use href="#b" x="84"/><use href="#b" x="136"/><use href="#b" x="188"/><use href="#b" x="240"/><use href="#b" x="292"/><use href="#b" x="344"/><use href="#b" x="396"/><use href="#b" x="448"/><use href="#e" x="500"/><use href="#e" x="552"/><use href="#b" x="604"/><use href="#b" x="656"/><use href="#b" x="708"/><use href="#e" x="760"/><use href="#e" x="812"/><use href="#b" x="864"/><use href="#b" x="916"/></g>
<g id="row57" transform="translate(0,2973.5)"><use href="#a" x="84"/><use href="#a" x="136"/><use href="#a" x="188"/><use href="#a" x="240"/><use href="#a" x="292"/><use href="#a" x="344"/><use href="#a" x="396"/><use href="#a" x="448"/><use href="#c" x="500"/><use href="#c" x="552"/><use href="#a" x="604"/><use href="#a" x="656"/><use href="#a" x="708"/><use href="#c" x="760"/><use href="#c" x="812"/><use href="#a" x="864"/><use href="#a" x="916"/></g>
<g id="row58" transform="translate(0,3025.5)"><use href="#b" x="84"/><use href="#b" x="136"/><use href="#b" x="188"/><use href="#b" x="240"/><use href="#b" x="292"/><use href="#b" x="344"/><use href="#b" x="396"/><use href="#b" x="448"/><use href="#b" x="500"/><use href="#b" x="552"/><use href="#b" x="604"/><use href="#b" x="656"/><use href="#b" x="708"/><use href="#e" x="760"/><use href="#e" x="812"/><use href="#b" x="864"/><use href="#b" x="916"/></g>
<g id="row59" transform="translate(0,3077.5)"><use href="#a" x="84"/><use href="#a" x="136"/><use href="#a" x="188"/><use href="#a" x="240"/><use href="#a" x="292"/><use href="#a" x="344"/><use href="#a" x="396"/><use href="#a" x="448"/><use href="#a" x="500"/><use href="#a" x="552"/><use href="#a" x="604"/><use href="#a" x="656"/><use href="#a" x="708"/><use href="#c" x="760"/><use href="#c" x="812"/><use href="#a" x="864"/><use href="#a" x="916"/></g>
</g>
<g id="ends">
<text class="capt" x="35" y="65.5">A</text>
<text class="capt" x="965" y="3081.5">A</text>
</g>
<text class="wm" x="500" y="1601">BRACELETBOOK.COM</text>
</svg>
